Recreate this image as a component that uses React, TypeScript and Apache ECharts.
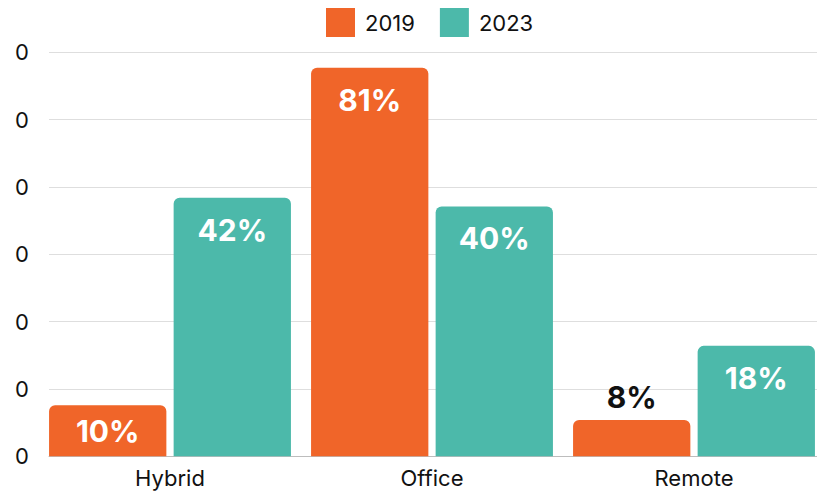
import React, { useEffect, useRef } from "react";
import * as echarts from "echarts";

const categories = ["Hybrid", "Office", "Remote"];
const seriesNames = ["2019", "2023"];
// bar heights in axis units (one unit per gridline)
const heights2019 = [0.76, 5.77, 0.54];
const heights2023 = [3.84, 3.71, 1.64];
const labels2019 = ["10%", "81%", "8%"];
const labels2023 = ["42%", "40%", "18%"];
const yTickLabels = ["0", "0", "0", "0", "0", "0", "0"];
const yMin = 0;
const yMax = 6;
const yInterval = 1;

const ORANGE = "#F06529";
const TEAL = "#4CB9AA";
const FONT = "Inter, 'Noto Sans', sans-serif";

function labelFor(value: number, text: string) {
  if (value < 0.6) {
    return { show: true, position: "top", distance: 8, color: "#111", formatter: text };
  }
  if (value < 0.97) {
    return { show: true, position: "inside", color: "#fff", formatter: text };
  }
  return { show: true, position: "insideTop", distance: 17, color: "#fff", formatter: text };
}

export default function App() {
  const ref = useRef<HTMLDivElement>(null);
  useEffect(() => {
    if (!ref.current) return;
    const chart = echarts.init(ref.current, undefined, { renderer: "svg" });
    const mk = (vals: number[], labs: string[]) =>
      vals.map((v, i) => ({ value: v, label: labelFor(v, labs[i]) }));
    chart.setOption({
      animation: false,
      textStyle: { fontFamily: FONT },
      legend: {
        top: 3,
        left: 321,
        itemWidth: 29,
        itemHeight: 29,
        itemGap: 25,
        icon: "rect",
        data: seriesNames,
        textStyle: { fontSize: 22, color: "#111", fontFamily: FONT, padding: [0, 0, 0, 5] },
      },
      grid: [
        { left: 49, right: 8, top: 52.3, bottom: 36.7, containLabel: false },
        { left: 39, right: 0, top: 52.3, bottom: 36.7, containLabel: false },
      ],
      xAxis: [
        {
          type: "category",
          gridIndex: 0,
          data: categories,
          axisLine: { show: true, lineStyle: { color: "#bdbdbd", width: 1 } },
          axisTick: { show: false },
          axisLabel: { show: false },
        },
        {
          type: "category",
          gridIndex: 1,
          data: categories,
          axisLine: { show: false },
          axisTick: { show: false },
          axisLabel: { color: "#111", fontSize: 22, margin: 11, fontFamily: FONT },
        },
      ],
      yAxis: [
        {
          type: "value",
          gridIndex: 0,
          min: yMin,
          max: yMax,
          interval: yInterval,
          axisLine: { show: false },
          axisTick: { show: false },
          splitLine: { show: true, lineStyle: { color: "#dedede", width: 1 } },
          axisLabel: {
            color: "#111",
            fontSize: 22,
            margin: 20,
            fontFamily: FONT,
            formatter: (v: number) => yTickLabels[Math.round((v - yMin) / yInterval)] ?? "",
          },
        },
        {
          type: "value",
          gridIndex: 1,
          min: yMin,
          max: yMax,
          interval: yInterval,
          show: false,
          splitLine: { show: false },
        },
      ],
      series: [
        {
          name: seriesNames[0],
          type: "bar",
          xAxisIndex: 1,
          yAxisIndex: 1,
          barWidth: 117.3,
          barGap: "6.2%",
          itemStyle: { color: ORANGE, borderRadius: [6, 6, 0, 0] },
          label: { fontSize: 30, fontWeight: "bold", fontFamily: FONT },
          data: mk(heights2019, labels2019),
        },
        {
          name: seriesNames[1],
          type: "bar",
          xAxisIndex: 1,
          yAxisIndex: 1,
          barWidth: 117.3,
          barGap: "6.2%",
          itemStyle: { color: TEAL, borderRadius: [6, 6, 0, 0] },
          label: { fontSize: 30, fontWeight: "bold", fontFamily: FONT },
          data: mk(heights2023, labels2023),
        },
      ],
    });
    return () => chart.dispose();
  }, []);
  return (
    <div style={{ position: "absolute", left: 0, top: 0, width: 817, height: 493, overflow: "hidden" }}>
      <div ref={ref} style={{ width: 825, height: 493 }} />
    </div>
  );
}
